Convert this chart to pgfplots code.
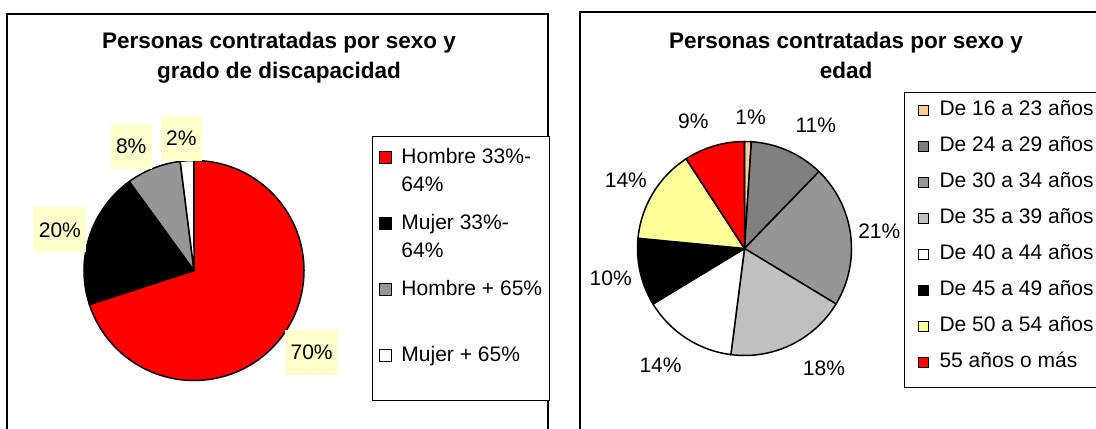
\documentclass[border=0pt]{standalone}
\usepackage{pgfplots}
\usepackage{pgfplotstable}
\usepackage{fontspec}
\setmainfont{Liberation Sans}
\pgfplotsset{compat=1.18}

\definecolor{xlred}{HTML}{FF0000}
\definecolor{xlgray}{HTML}{969696}
\definecolor{xlpeach}{HTML}{FFCC99}
\definecolor{xldark}{HTML}{808080}
\definecolor{xllight}{HTML}{C0C0C0}
\definecolor{xlyellow}{HTML}{FFFF99}
\definecolor{lblbg}{HTML}{FFFFCC}

% percent, slice colour, label position (in pie radii)
\pgfplotstableread{
value color lx ly
70 xlred 1.069 -0.745
20 black -1.219 0.370
8 xlgray -0.571 1.127
2 white -0.115 1.200
}\tblsexo

\pgfplotstableread{
value color lx ly
1 xlpeach 0.056 1.229
11 xldark 0.666 1.147
21 xlgray 1.260 0.157
18 xllight 0.743 -1.120
14 white -0.785 -1.089
10 black -1.250 -0.279
14 xlyellow -1.109 0.640
9 xlred -0.479 1.193
}\tbledad

% slices clockwise from 12 o'clock, angles from the table values
\newcommand\drawpie[2]{%
  \pgfplotstablegetrowsof{#1}%
  \pgfmathtruncatemacro\pielast{\pgfplotsretval-1}%
  \gdef\piesum{0}%
  \foreach \i in {0,...,\pielast}{%
    \pgfplotstablegetelem{\i}{value}\of{#1}%
    \pgfmathparse{\piesum+\pgfplotsretval}%
    \xdef\piesum{\pgfmathresult}%
  }%
  \gdef\piestart{90}%
  \foreach \i in {0,...,\pielast}{%
    \pgfplotstablegetelem{\i}{value}\of{#1}%
    \pgfmathsetmacro\pieend{\piestart-\pgfplotsretval/\piesum*360}%
    \pgfplotstablegetelem{\i}{color}\of{#1}%
    \edef\piecol{\pgfplotsretval}%
    \pgfmathsetmacro\piex{cos(\piestart)}%
    \pgfmathsetmacro\piey{sin(\piestart)}%
    \filldraw[fill=\piecol, draw=black, line width=0.75pt, line join=round]
      (axis cs:0,0) -- (axis cs:\piex,\piey)
      arc[start angle=\piestart, end angle=\pieend, radius=#2] -- cycle;
    \xdef\piestart{\pieend}%
  }%
}

\begin{document}
\begin{tikzpicture}
\useasboundingbox (0,0) rectangle (548pt,214pt);
\clip (0,0) rectangle (548pt,214pt);

% frames
\draw[line width=1pt] (3.65pt,-20pt) rectangle (274.15pt,207pt);
\draw[line width=1pt] (290pt,-20pt) rectangle (560pt,207.85pt);

% titles
\node[anchor=base, font=\bfseries\fontsize{11.25}{13}\selectfont] at (139.5pt,189.5pt) {Personas contratadas por sexo y};
\node[anchor=base, font=\bfseries\fontsize{11.25}{13}\selectfont] at (139.5pt,174.5pt) {grado de discapacidad};
\node[anchor=base, font=\bfseries\fontsize{11.25}{13}\selectfont] at (423pt,189.5pt) {Personas contratadas por sexo y};
\node[anchor=base, font=\bfseries\fontsize{11.25}{13}\selectfont] at (423pt,174.75pt) {edad};

% left pie
\begin{axis}[
    at={(97pt,78.75pt)}, anchor=origin,
    x=55pt, y=55pt,
    xmin=-1.5, xmax=1.5, ymin=-1.5, ymax=1.5,
    hide axis, clip=false,
    /pgf/number format/assume math mode=true,
    legend image code/.code={\draw[#1] (0pt,0pt) rectangle (6pt,6pt);},
    legend style={at={(axis cs:1.618,1.223)}, anchor=north west,
        draw=black, line width=0.5pt, fill=white,
        inner xsep=3.5pt, inner ysep=5.3pt, row sep=10.8pt, column sep=4.5pt,
        font=\fontsize{10.5}{14}\selectfont,
        cells={anchor=base west},
        nodes={inner sep=0pt, text height=8pt, text depth=14.2pt}},
]
\pgfplotsextra{\drawpie{\tblsexo}{55pt}}
\addplot[forget plot, draw=none, mark=none, point meta=explicit,
    nodes near coords={\pgfmathprintnumber{\pgfplotspointmeta}\%},
    every node near coord/.append style={anchor=center, fill=lblbg,
        inner xsep=2.7pt, inner ysep=0pt, minimum height=22.5pt,
        font=\fontsize{10.5}{12}\selectfont}]
    table[x=lx, y=ly, meta=value] {\tblsexo};
\addlegendimage{fill=xlred, draw=black}
\addlegendentry{\begin{tabular}[t]{@{}l@{}}Hombre 33\%-\\64\%\end{tabular}}
\addlegendimage{fill=black, draw=black}
\addlegendentry{\begin{tabular}[t]{@{}l@{}}Mujer 33\%-\\64\%\end{tabular}}
\addlegendimage{fill=xlgray, draw=black}
\addlegendentry{Hombre + 65\%}
\addlegendimage{fill=white, draw=black}
\addlegendentry{Mujer + 65\%}
\end{axis}

% right pie
\begin{axis}[
    at={(372.25pt,89.75pt)}, anchor=origin,
    x=53.5pt, y=53.5pt,
    xmin=-1.5, xmax=1.5, ymin=-1.5, ymax=1.5,
    hide axis, clip=false,
    /pgf/number format/assume math mode=true,
    legend image code/.code={\draw[#1] (0pt,0pt) rectangle (5pt,5pt);},
    legend style={at={(axis cs:1.491,1.460)}, anchor=north west,
        draw=black, line width=0.5pt, fill=white,
        inner xsep=6.5pt, inner ysep=3.5pt, row sep=3.5pt, column sep=5.5pt,
        font=\fontsize{10.5}{14}\selectfont,
        cells={anchor=base west},
        nodes={inner sep=0pt, text height=8pt, text depth=6.5pt}},
]
\pgfplotsextra{\drawpie{\tbledad}{53.5pt}}
\addplot[forget plot, draw=none, mark=none, point meta=explicit,
    nodes near coords={\pgfmathprintnumber{\pgfplotspointmeta}\%},
    every node near coord/.append style={anchor=center, inner sep=0pt,
        font=\fontsize{10.5}{12}\selectfont}]
    table[x=lx, y=ly, meta=value] {\tbledad};
\addlegendimage{fill=xlpeach, draw=black}
\addlegendentry{De 16 a 23 años}
\addlegendimage{fill=xldark, draw=black}
\addlegendentry{De 24 a 29 años}
\addlegendimage{fill=xlgray, draw=black}
\addlegendentry{De 30 a 34 años}
\addlegendimage{fill=xllight, draw=black}
\addlegendentry{De 35 a 39 años}
\addlegendimage{fill=white, draw=black}
\addlegendentry{De 40 a 44 años}
\addlegendimage{fill=black, draw=black}
\addlegendentry{De 45 a 49 años}
\addlegendimage{fill=xlyellow, draw=black}
\addlegendentry{De 50 a 54 años}
\addlegendimage{fill=xlred, draw=black}
\addlegendentry{55 años o más}
\end{axis}
\end{tikzpicture}
\end{document}
